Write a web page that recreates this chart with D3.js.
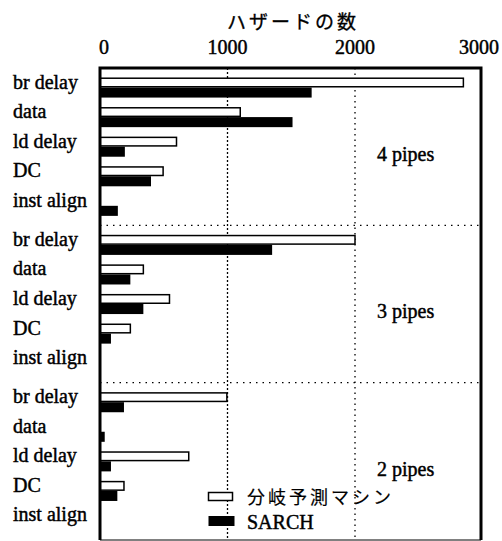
<!DOCTYPE html>
<html>
<head>
<meta charset="utf-8">
<script src="https://cdn.jsdelivr.net/npm/d3@7"></script>
<style>
  html, body { margin: 0; padding: 0; background: #fff; }
  svg { display: block; }
</style>
</head>
<body>
<svg id="chart" width="502" height="541"></svg>
<script>
// ---- data ----
const groups = ["4 pipes", "3 pipes", "2 pipes"];
const categories = ["br delay", "data", "ld delay", "DC", "inst align"];
const seriesNames = ["分岐予測マシン", "SARCH"];
// values per group, in category order
const branchPred = [
  [2850, 1100, 600, 495, 0],   // 4 pipes
  [2000, 340, 545, 238, 0],    // 3 pipes
  [995, 0, 696, 188, 0]        // 2 pipes
];
const sarch = [
  [1660, 1510, 195, 400, 140], // 4 pipes
  [1350, 238, 340, 86, 0],     // 3 pipes
  [188, 37, 86, 136, 0]        // 2 pipes
];
const tickValues = [0, 1000, 2000, 3000];
const gridValues = [1000, 2000];
const axisTitle = "ハザードの数";

// ---- layout ----
const W = 502, H = 541;
const pL = 100, pR = 481, pT = 68, pB = 540;
const SERIF = "'Liberation Serif', 'Times New Roman', Times, 'DejaVu Serif', 'Noto Serif', serif";
const JP = "'Noto Sans CJK JP', 'Noto Sans CJK SC', sans-serif";

const svg = d3.select("#chart");

const x = d3.scaleLinear().domain([0, 3000]).range([pL, 482.5]);
const yGroup = d3.scaleBand().domain(groups).range([pT, pB]).padding(0);
const yCat = d3.scaleBand().domain(categories).range([0, yGroup.bandwidth()])
  .paddingInner(0.32).paddingOuter(0.32);
const barH = yCat.bandwidth() / 2;

function serifText(sel, size) {
  return sel.attr("font-family", SERIF).attr("font-size", size)
    .attr("fill", "#000").attr("stroke", "#000").attr("stroke-width", 0.45);
}

// gridlines (vertical dotted)
svg.append("g").selectAll("line").data(gridValues).join("line")
  .attr("x1", d => x(d)).attr("x2", d => x(d))
  .attr("y1", pT).attr("y2", pB)
  .attr("stroke", "#000").attr("stroke-width", 1.3)
  .attr("stroke-dasharray", (d, i) => i === 0 ? "2,2" : "1.5,4");

// group separators (horizontal dotted)
svg.append("g").selectAll("line").data(groups.slice(1)).join("line")
  .attr("x1", pL).attr("x2", pR)
  .attr("y1", d => yGroup(d)).attr("y2", d => yGroup(d))
  .attr("stroke", "#000").attr("stroke-width", 1.3)
  .attr("stroke-dasharray", "1.5,5");

// bars
const rows = [];
groups.forEach((g, gi) => {
  categories.forEach((c, ci) => {
    rows.push({ g, c, series: 0, v: branchPred[gi][ci] });
    rows.push({ g, c, series: 1, v: sarch[gi][ci] });
  });
});

const barG = svg.append("g");
barG.selectAll("rect.white").data(rows.filter(r => r.series === 0 && r.v > 0)).join("rect")
  .attr("class", "white")
  .attr("x", x(0))
  .attr("y", d => yGroup(d.g) + yCat(d.c) + 0.75)
  .attr("width", d => x(d.v) - x(0))
  .attr("height", barH - 1.5)
  .attr("fill", "#fff").attr("stroke", "#000").attr("stroke-width", 1.5);

barG.selectAll("rect.black").data(rows.filter(r => r.series === 1 && r.v > 0)).join("rect")
  .attr("class", "black")
  .attr("x", x(0))
  .attr("y", d => yGroup(d.g) + yCat(d.c) + barH)
  .attr("width", d => x(d.v) - x(0))
  .attr("height", barH)
  .attr("fill", "#000");

// category labels
groups.forEach(g => {
  svg.append("g").selectAll("text").data(categories).join("text")
    .call(serifText, 20)
    .attr("x", 13)
    .attr("y", d => yGroup(g) + yCat(d) + yCat.bandwidth() / 2 + 1)
    .text(d => d);
});

// group labels
svg.append("g").selectAll("text").data(groups).join("text")
  .call(serifText, 20)
  .attr("x", 377)
  .attr("y", d => yGroup(d) + 93)
  .text(d => d);

// frame
svg.append("path")
  .attr("d", `M${pL},${pB} L${pL},${pT} L${pR},${pT} L${pR},${pB}`)
  .attr("fill", "none").attr("stroke", "#000").attr("stroke-width", 3);
svg.append("line")
  .attr("x1", pL).attr("x2", pR).attr("y1", pB).attr("y2", pB)
  .attr("stroke", "#000").attr("stroke-width", 1);

// top axis tick labels
svg.append("g").selectAll("text").data(tickValues).join("text")
  .call(serifText, 20)
  .attr("x", (d, i) => i === tickValues.length - 1 ? W - 3 : x(d) + (i === 0 ? 4 : 0))
  .attr("y", 54)
  .attr("text-anchor", (d, i) => i === tickValues.length - 1 ? "end" : "middle")
  .text(d => d);

// axis title
svg.append("text")
  .attr("font-family", JP).attr("fill", "#000")
  .attr("stroke", "#000").attr("stroke-width", 0.3)
  .attr("x", 227).attr("y", 29)
  .attr("font-size", 19)
  .attr("letter-spacing", 3)
  .text(axisTitle);

// legend
const legend = svg.append("g");
legend.selectAll("rect").data(seriesNames).join("rect")
  .attr("x", 208.5)
  .attr("y", (d, i) => i === 0 ? 492.5 : 516)
  .attr("width", (d, i) => i === 0 ? 24 : 26)
  .attr("height", (d, i) => i === 0 ? 8 : 10)
  .attr("fill", (d, i) => i === 0 ? "#fff" : "#000")
  .attr("stroke", "#000").attr("stroke-width", (d, i) => i === 0 ? 1.5 : 0);
legend.selectAll("text").data(seriesNames).join("text")
  .attr("font-family", (d, i) => i === 0 ? JP : SERIF).attr("fill", "#000")
  .attr("stroke", "#000").attr("stroke-width", (d, i) => i === 0 ? 0.2 : 0.45)
  .attr("x", 247)
  .attr("y", (d, i) => i === 0 ? 504 : 529)
  .attr("font-size", (d, i) => i === 0 ? 18 : 20)
  .attr("letter-spacing", (d, i) => i === 0 ? 3 : 0)
  .text(d => d);
</script>
</body>
</html>
